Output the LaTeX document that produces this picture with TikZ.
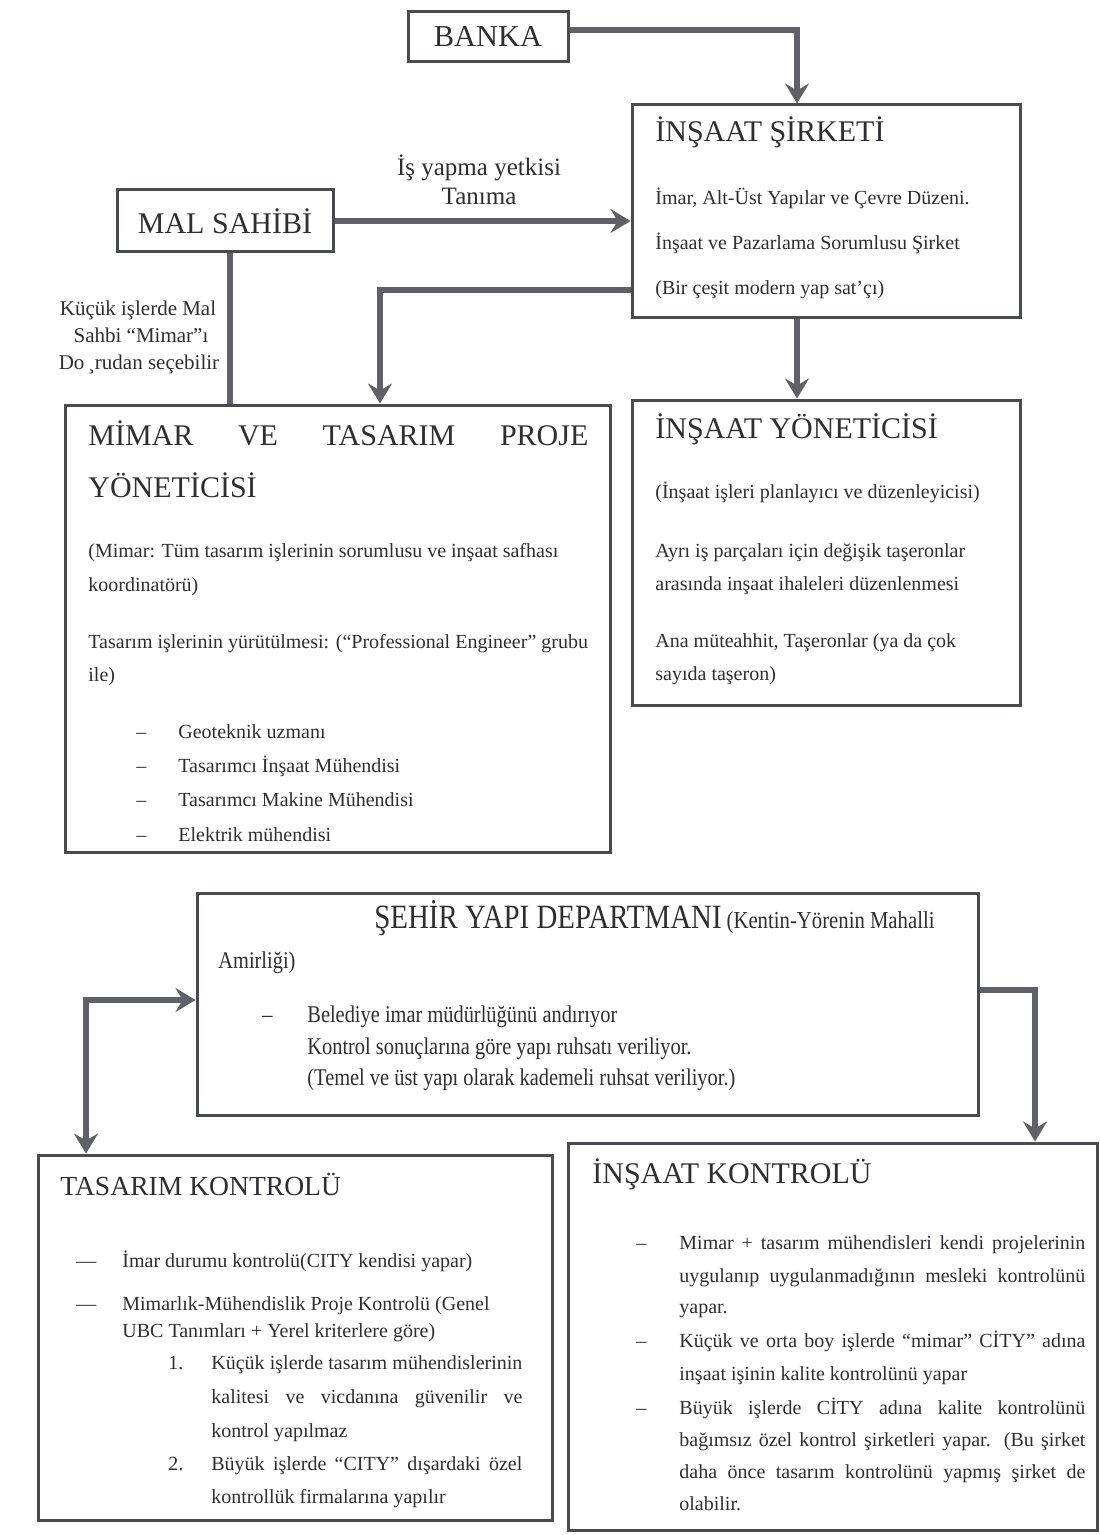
\documentclass[tikz,border=0pt]{standalone}
\usepackage{fontspec}
\setmainfont{Liberation Serif}
\newfontfamily\condfont[FakeStretch=0.85]{Liberation Serif}
\usetikzlibrary{fit,arrows.meta}
\definecolor{edge}{HTML}{4A4A52}
\definecolor{conn}{HTML}{606068}
\definecolor{ink}{HTML}{2E2E33}
\newcommand\hdfont{\fontsize{15}{17}\selectfont}
\newcommand\bdfont{\fontsize{10}{12}\selectfont}
\newcommand\txtline[3]{\node[txt] (#1) at (#2) {#3};}
\begin{document}
\begin{tikzpicture}[x=0.5pt,y=-0.5pt,
  box/.style={draw=edge,line width=1.5pt,inner sep=0pt},
  tip/.tip={Stealth[length=10pt,width=12pt,inset=3.5pt]},
  arr/.style={draw=conn,line width=2.6pt,-tip},
  darr/.style={draw=conn,line width=2.6pt,tip-tip},
  plain/.style={draw=conn,line width=2.6pt},
  txt/.style={anchor=base west,inner sep=0pt,text=ink,font=\bdfont},
  ctr/.style={anchor=base,inner sep=0pt,text=ink},
  hd/.style={txt,font=\hdfont},
  cond/.style={txt,font=\condfont\fontsize{12}{14}\selectfont}]
\useasboundingbox (0,0) rectangle (1099,1535);

% ---------- boxes ----------
\node[box,fit={(408,12)(568,62)}] (banka) {};
\node[box,fit={(632,105)(1020,318)}] (sirket) {};
\node[box,fit={(117,190)(333,252)}] (mal) {};
\node[box,fit={(65,405)(610,852)}] (mimar) {};
\node[box,fit={(632,400)(1020,705)}] (yonetici) {};
\node[box,fit={(197,893)(978,1115)}] (sehir) {};
\node[box,fit={(38,1155)(552,1520)}] (taskont) {};
\node[box,fit={(568,1143)(1097,1530)}] (inskont) {};

\node[inner sep=0pt,text=ink,font=\fontsize{15.2}{18}\selectfont] (bankat) at (banka.center) {BANKA};
\node[inner sep=0pt,text=ink,font=\fontsize{15}{18}\selectfont] (malt) at (mal.center) {MAL SAHİBİ};

% ---------- connector bends ----------
\coordinate (c1) at (797,30);
\coordinate (c2) at (380,290);
\coordinate (c3) at (1035,990);
\coordinate (c4) at (86,1000);
\coordinate (c5) at (230,0);

% ---------- connectors ----------
\draw[arr] (banka.east |- c1) -- (c1) -- (c1 |- sirket.north);
\draw[arr] (mal.east) -- (mal.east -| sirket.west);
\draw[plain] (mal.south -| c5) -- (c5 |- mimar.north);
\draw[arr] (sirket.west |- c2) -- (c2) -- (c2 |- mimar.north);
\draw[arr] (c1 |- sirket.south) -- (c1 |- yonetici.north);
\draw[arr] (sehir.east |- c3) -- (c3) -- (c3 |- inskont.north);
\draw[darr] (c4 |- taskont.north) -- (c4) -- (c4 -| sehir.west);

% ---------- connector labels ----------
\node[ctr,font=\fontsize{12.5}{15}\selectfont] (la1) at (479,176) {İş yapma yetkisi};
\node[ctr,font=\fontsize{12.5}{15}\selectfont] (la2) at (479,205) {Tanıma};
\node[ctr,font=\fontsize{10.5}{13}\selectfont] (lb1) at (138,316) {Küçük işlerde Mal};
\node[ctr,font=\fontsize{10.5}{13}\selectfont] (lb2) at (141,343) {Sahbi “Mimar”ı};
\node[ctr,font=\fontsize{10.5}{13}\selectfont] (lb3) at (139,370) {Do\,¸rudan seçebilir};

% ---------- İnşaat Şirketi ----------
\node[hd] (s0) at (655,142) {İNŞAAT ŞİRKETİ};
\txtline{s1}{655,205}{İmar, Alt-Üst Yapılar ve Çevre Düzeni.}
\txtline{s2}{655,250}{İnşaat ve Pazarlama Sorumlusu Şirket}
\txtline{s3}{655,295}{(Bir çeşit modern yap sat’çı)}

% ---------- Mimar ----------
\node[hd] (m0) at (88,445) {\makebox[250pt][s]{MİMAR VE TASARIM PROJE}};
\node[hd] (m1) at (88,497) {YÖNETİCİSİ};
\txtline{m2}{88,557}{(Mimar: Tüm tasarım işlerinin sorumlusu ve inşaat safhası}
\txtline{m3}{88,591}{koordinatörü)}
\txtline{m4}{88,648}{Tasarım işlerinin yürütülmesi: (“Professional Engineer” grubu}
\txtline{m5}{88,681}{ile)}
\txtline{md1}{136,738}{–}
\txtline{md2}{136,772}{–}
\txtline{md3}{136,806}{–}
\txtline{md4}{136,841}{–}
\txtline{m6}{178,738}{Geoteknik uzmanı}
\txtline{m7}{178,772}{Tasarımcı İnşaat Mühendisi}
\txtline{m8}{178,806}{Tasarımcı Makine Mühendisi}
\txtline{m9}{178,841}{Elektrik mühendisi}

% ---------- İnşaat Yöneticisi ----------
\node[hd] (y0) at (655,438) {İNŞAAT YÖNETİCİSİ};
\txtline{y1}{655,498}{(İnşaat işleri planlayıcı ve düzenleyicisi)}
\txtline{y2}{655,557}{Ayrı iş parçaları için değişik taşeronlar}
\txtline{y3}{655,590}{arasında inşaat ihaleleri düzenlenmesi}
\txtline{y4}{655,647}{Ana müteahhit, Taşeronlar (ya da çok}
\txtline{y5}{655,680}{sayıda taşeron)}

% ---------- Şehir Yapı Departmanı ----------
\node[txt] (h0) at (374,928) {{\condfont\fontsize{17}{19}\selectfont ŞEHİR YAPI DEPARTMANI} {\condfont\fontsize{12.2}{14}\selectfont(Kentin-Yörenin Mahalli}};
\node[cond] (h1) at (218,968) {Amirliği)};
\node[cond] (hd1) at (262,1022) {–};
\node[cond] (h2) at (307,1022) {Belediye imar müdürlüğünü andırıyor};
\node[cond] (h3) at (307,1054) {Kontrol sonuçlarına göre yapı ruhsatı veriliyor.};
\node[cond] (h4) at (307,1085) {(Temel ve üst yapı olarak kademeli ruhsat veriliyor.)};

% ---------- Tasarım Kontrolü ----------
\node[hd,font=\fontsize{13.8}{16}\selectfont] (t0) at (60,1195) {TASARIM KONTROLÜ};
\txtline{td1}{76,1267}{—}
\txtline{td2}{76,1310}{—}
\txtline{t1}{122,1267}{İmar durumu kontrolü(CITY kendisi yapar)}
\txtline{t2}{122,1310}{Mimarlık-Mühendislik Proje Kontrolü (Genel}
\txtline{t3}{122,1337}{UBC Tanımları + Yerel kriterlere göre)}
\txtline{tn1}{168,1369}{1.}
\txtline{t4}{211,1369}{\makebox[155.5pt][s]{Küçük işlerde tasarım mühendislerinin}}
\txtline{t5}{211,1403}{\makebox[155.5pt][s]{kalitesi ve vicdanına güvenilir ve}}
\txtline{t6}{211,1437}{kontrol yapılmaz}
\txtline{tn2}{168,1470}{2.}
\txtline{t7}{211,1470}{\makebox[155.5pt][s]{Büyük işlerde “CITY” dışardaki özel}}
\txtline{t8}{211,1503}{kontrollük firmalarına yapılır}

% ---------- İnşaat Kontrolü ----------
\node[hd] (k0) at (592,1183) {İNŞAAT KONTROLÜ};
\txtline{kd1}{636,1249}{–}
\txtline{kd2}{636,1347}{–}
\txtline{kd3}{636,1414}{–}
\txtline{k1}{679,1249}{\makebox[203pt][s]{Mimar + tasarım mühendisleri kendi projelerinin}}
\txtline{k2}{679,1282}{\makebox[203pt][s]{uygulanıp uygulanmadığının mesleki kontrolünü}}
\txtline{k3}{679,1313}{yapar.}
\txtline{k4}{679,1347}{\makebox[203pt][s]{Küçük ve orta boy işlerde “mimar” CİTY” adına}}
\txtline{k5}{679,1380}{inşaat işinin kalite kontrolünü yapar}
\txtline{k6}{679,1414}{\makebox[203pt][s]{Büyük işlerde CİTY adına kalite kontrolünü}}
\txtline{k7}{679,1446}{\makebox[203pt][s]{bağımsız özel kontrol şirketleri yapar. (Bu şirket}}
\txtline{k8}{679,1478}{\makebox[203pt][s]{daha önce tasarım kontrolünü yapmış şirket de}}
\txtline{k9}{679,1510}{olabilir.}
\end{tikzpicture}
\end{document}
